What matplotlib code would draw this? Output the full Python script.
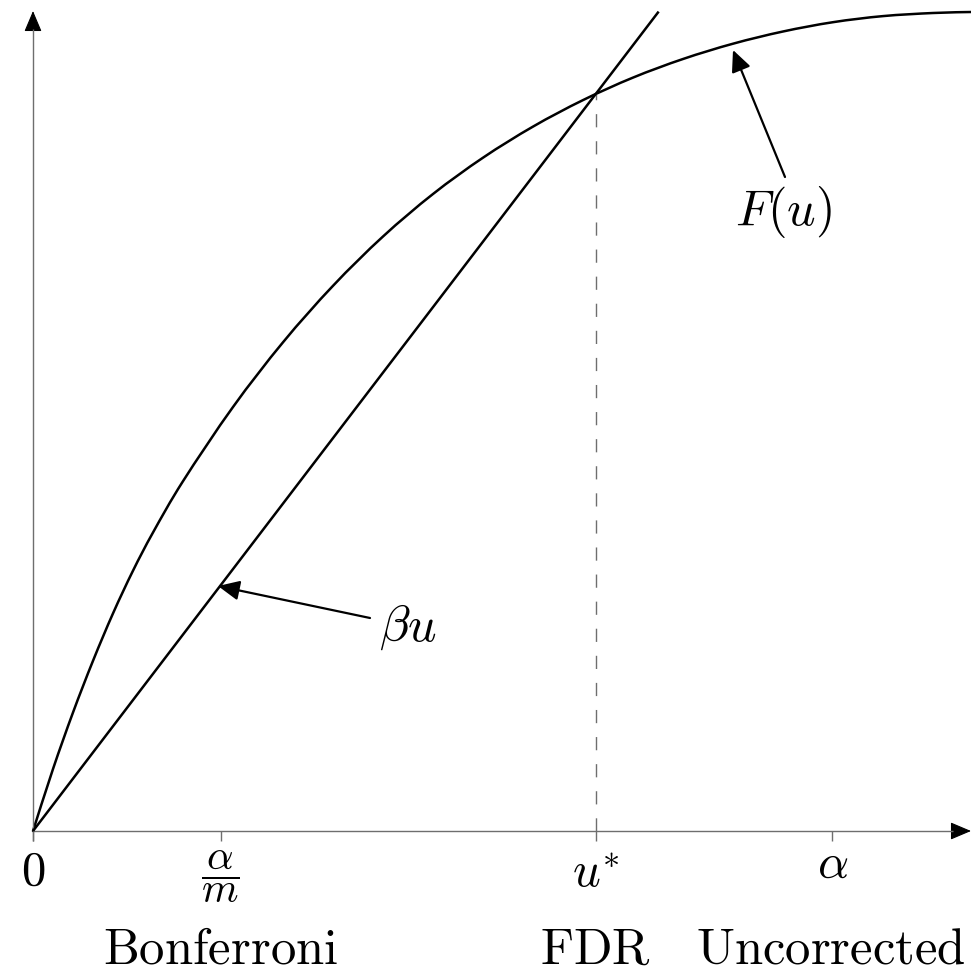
import matplotlib
matplotlib.use('Agg')
import matplotlib.pyplot as plt
from matplotlib.patches import FancyArrowPatch, PathPatch
from matplotlib.path import Path

plt.rcParams['mathtext.fontset'] = 'cm'
plt.rcParams['font.family'] = 'DejaVu Serif'

# ---------------- data (normalised units: u on x, F on y) ----------------
curve_u = [0.0, 0.02132, 0.04264, 0.06397, 0.08529, 0.10661, 0.12793, 0.15991,
           0.21322, 0.26652, 0.31983, 0.37313, 0.42644, 0.47974, 0.53305,
           0.58635, 0.63966, 0.69296, 0.74627, 0.79957, 0.85288, 0.90618,
           0.95949, 1.0]
curve_F = [0.0, 0.07570, 0.14469, 0.20781, 0.26569, 0.31783, 0.36447, 0.42711,
           0.51770, 0.59670, 0.66569, 0.72589, 0.77778, 0.82210, 0.86007,
           0.89243, 0.91990, 0.94261, 0.96129, 0.97619, 0.98755, 0.99499,
           0.99878, 1.0]
beta = 1.5
line_u = [0.0, 0.667]
u_star = 0.6
tick_pos = [0.0, 0.2, 0.6, 0.852]
tick_labels = [r'$0$', r'$\dfrac{\alpha}{m}$', r'$u^{*}$', r'$\alpha$']
method_labels = ['Bonferroni', 'FDR', 'Uncorrected']
method_pos = [0.2, 0.6, 0.852]
curve_label = r'$F(u)$'
line_label = r'$\beta u$'

# ---------------- layout ----------------
W, H = 971, 974
X0, Y0, SX, SY = 33, 831, 938, 819
fig = plt.figure(figsize=(W / 100, H / 100), dpi=100)
ax = fig.add_axes([0, 0, 1, 1])
ax.set_axis_off()
ax.set_xlim(-X0 / SX, (W - X0) / SX)
ax.set_ylim(-(H - Y0) / SY, Y0 / SY)


def P(x, y):
    return ((x - X0) / SX, (Y0 - y) / SY)


GRAY = '#6e6e6e'
FS = 35

# axes
xa0, _ = P(33, 831)
xa1, _ = P(953, 831)
ax.plot([xa0, xa1], [0, 0], color=GRAY, lw=1.0, solid_capstyle='butt')
_, yb = P(33, 841)
_, yt = P(33, 29)
ax.plot([0, 0], [yb, yt], color=GRAY, lw=1.0, solid_capstyle='butt')

head = '-|>,head_length=13,head_width=5.5'
for a, b in [(P(952, 831), P(971, 831)), (P(33, 30), P(33, 11))]:
    ax.add_patch(FancyArrowPatch(a, b, arrowstyle=head, mutation_scale=1,
                                 color='black', lw=0.8, shrinkA=0, shrinkB=0,
                                 clip_on=False))

# ticks
for t in tick_pos:
    ax.plot([t, t], [0, yb], color=GRAY, lw=1.0, solid_capstyle='butt')

# dashed u*
ax.plot([u_star, u_star], [0, beta * u_star], color=GRAY, lw=1.0,
        dashes=(9.5, 10))

# smooth curve through the read points (Catmull-Rom -> cubic Bezier path)
pts = list(zip(curve_u, curve_F))
n = len(pts)
verts = [pts[0]]
codes = [Path.MOVETO]
for i in range(n - 1):
    p0 = pts[i - 1] if i > 0 else pts[i]
    p1 = pts[i]
    p2 = pts[i + 1]
    p3 = pts[i + 2] if i + 2 < n else pts[i + 1]
    c1 = (p1[0] + (p2[0] - p0[0]) / 6, p1[1] + (p2[1] - p0[1]) / 6)
    c2 = (p2[0] - (p3[0] - p1[0]) / 6, p2[1] - (p3[1] - p1[1]) / 6)
    verts += [c1, c2, p2]
    codes += [Path.CURVE4] * 3
ax.add_patch(PathPatch(Path(verts, codes), facecolor='none', edgecolor='black',
                       lw=1.8, clip_on=False, capstyle='round'))

ax.plot(line_u, [beta * u for u in line_u], color='black', lw=1.8,
        clip_on=False, solid_capstyle='butt')

# annotation arrows
ann = '-|>,head_length=13,head_width=6'
for a, b in [(P(785, 177), P(733, 50)), (P(370, 618), P(218, 586))]:
    ax.add_patch(FancyArrowPatch(a, b, arrowstyle=ann, mutation_scale=1,
                                 color='black', lw=1.6, shrinkA=0, shrinkB=0,
                                 clip_on=False))

ax.text(*P(783, 212), curve_label, fontsize=36, ha='center', va='center')
ax.text(*P(408, 627), line_label, fontsize=36, ha='center', va='center')

# tick labels
label_base = [885, 887, 887, 878]
label_fs = [FS, 30, FS, FS]
for t, lab, yb_, fs in zip(tick_pos, tick_labels, label_base, label_fs):
    ax.text(t, P(0, yb_)[1], lab, fontsize=fs, ha='center', va='baseline')

# method labels
_, ybase = P(0, 964)
for i, (t, lab) in enumerate(zip(method_pos, method_labels)):
    s = r'$\mathrm{' + lab + '}$'
    if i == len(method_labels) - 1:
        ax.text(P(966, 0)[0], ybase, s, fontsize=36.5, ha='right', va='baseline')
    else:
        ax.text(t, ybase, s, fontsize=36.5, ha='center', va='baseline')

fig.savefig('out.png', dpi=100)
